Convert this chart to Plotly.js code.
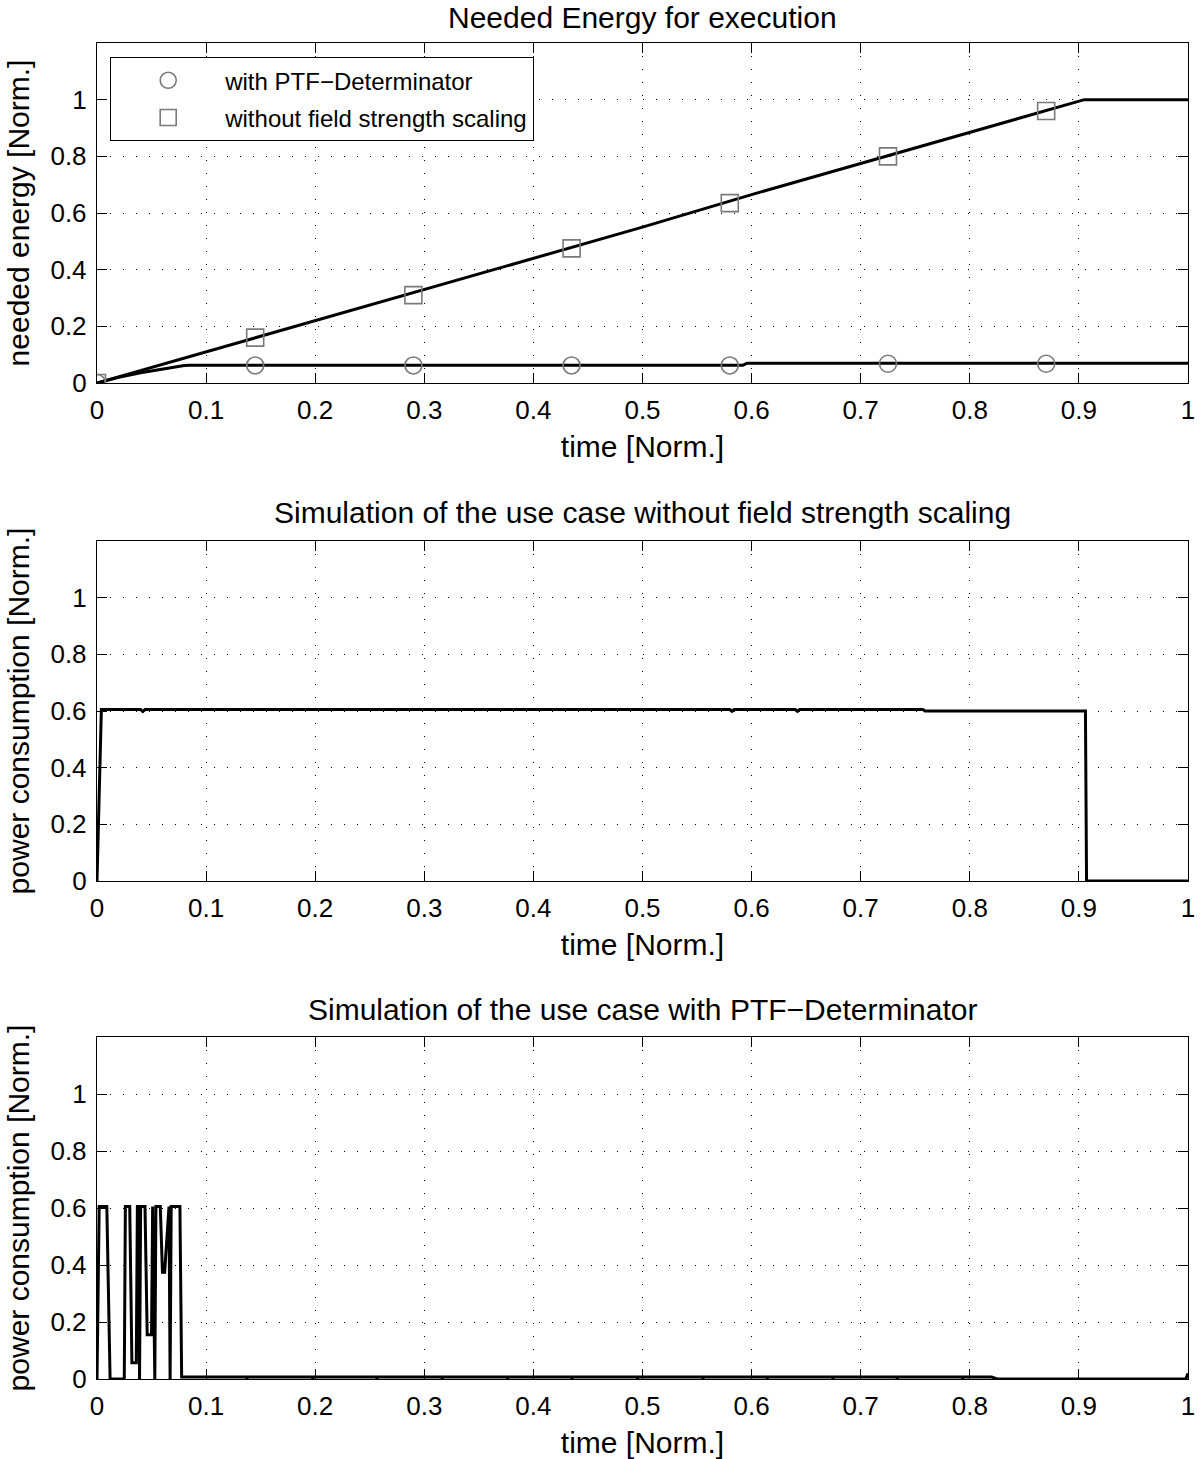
<!DOCTYPE html>
<html>
<head>
<meta charset="utf-8">
<script src="https://cdn.plot.ly/plotly-3.0.1.min.js"></script>
<style>html,body{margin:0;padding:0;background:#fff}#chart{width:1200px;height:1459px}</style>
</head>
<body>
<div id="chart"></div>
<script>
// ---- Panel 1: needed energy ----
const energyNoScaleT = [0, 0.1, 0.2, 0.3, 0.4, 0.5, 0.6, 0.7, 0.8, 0.905, 1];
const energyNoScaleY = [0, 0.11, 0.22, 0.33, 0.44, 0.55, 0.665, 0.775, 0.885, 1, 1];
const energyPtfT = [0, 0.02, 0.04, 0.06, 0.08, 0.085, 0.592, 0.596, 1];
const energyPtfY = [0, 0.02, 0.036, 0.05, 0.062, 0.063, 0.063, 0.07, 0.07];
const markerT = [0, 0.145, 0.29, 0.435, 0.58, 0.725, 0.87];
const markerPtfY = [0, 0.062, 0.062, 0.062, 0.062, 0.068, 0.068];
const markerNoScaleY = [0, 0.16, 0.31, 0.475, 0.635, 0.8, 0.96];

// ---- Panel 2: power without field strength scaling ----
const powerNoScaleT = [0, 0.004, 0.04, 0.042, 0.044, 0.58, 0.582, 0.584, 0.64, 0.642, 0.644, 0.757, 0.759, 0.906, 0.907, 1];
const powerNoScaleY = [0, 0.605, 0.605, 0.598, 0.605, 0.605, 0.599, 0.605, 0.605, 0.599, 0.605, 0.605, 0.6, 0.6, 0, 0];

// ---- Panel 3: power with PTF-Determinator ----
const powerPtfT = [0, 0.002, 0.009, 0.012, 0.025, 0.026, 0.030, 0.032, 0.036, 0.037, 0.038, 0.039, 0.040, 0.044, 0.046, 0.050, 0.051, 0.053, 0.054, 0.058, 0.060, 0.062, 0.066, 0.067, 0.068, 0.076, 0.0776,
  0.137, 0.1375, 0.138, 0.197, 0.1975, 0.198, 0.256, 0.2565, 0.257, 0.316, 0.3165, 0.317, 0.376, 0.3765, 0.377, 0.435, 0.4355, 0.436, 0.495, 0.4955, 0.496, 0.555, 0.5555, 0.556, 0.614, 0.6145, 0.615, 0.674, 0.6745, 0.675, 0.733, 0.7335, 0.734, 0.793, 0.7935, 0.794, 0.82, 0.825, 0.998, 1];
const powerPtfY = [0, 0.605, 0.605, 0, 0, 0.605, 0.605, 0.057, 0.057, 0.605, 0.605, 0, 0.605, 0.605, 0.155, 0.155, 0.605, 0, 0.605, 0.605, 0.375, 0.375, 0.605, 0, 0.605, 0.605, 0.007,
  0.007, 0.001, 0.007, 0.007, 0.001, 0.007, 0.007, 0.001, 0.007, 0.007, 0.001, 0.007, 0.007, 0.001, 0.007, 0.007, 0.001, 0.007, 0.007, 0.001, 0.007, 0.007, 0.001, 0.007, 0.007, 0.001, 0.007, 0.007, 0.001, 0.007, 0.007, 0.001, 0.007, 0.007, 0.001, 0.007, 0.007, 0, 0, 0.02];

const titles = ['Needed Energy for execution', 'Simulation of the use case without field strength scaling', 'Simulation of the use case with PTF\u2212Determinator'];
const yTitles = ['needed energy [Norm.]', 'power consumption [Norm.]', 'power consumption [Norm.]'];
const xTitle = 'time [Norm.]';
const legendNames = ['with PTF\u2212Determinator', 'without field strength scaling'];
const xTickVals = [0, 0.1, 0.2, 0.3, 0.4, 0.5, 0.6, 0.7, 0.8, 0.9, 1];
const xTickText = ['0', '0.1', '0.2', '0.3', '0.4', '0.5', '0.6', '0.7', '0.8', '0.9', '1'];
const yTickVals = [0, 0.2, 0.4, 0.6, 0.8, 1];
const yTickText = ['0', '0.2', '0.4', '0.6', '0.8', '1'];

const FONT = 'Liberation Sans, Arial, Helvetica, sans-serif';
const H = 1459;
const lineStyle = {color: '#000', width: 3};
const markerGray = '#7a7a7a';

const traces = [
  {x: energyNoScaleT, y: energyNoScaleY, mode: 'lines', line: lineStyle, showlegend: false, xaxis: 'x', yaxis: 'y', hoverinfo: 'skip'},
  {x: energyPtfT, y: energyPtfY, mode: 'lines', line: lineStyle, showlegend: false, xaxis: 'x', yaxis: 'y', hoverinfo: 'skip'},
  {x: markerT, y: markerPtfY, mode: 'markers', name: legendNames[0], legendgroup: 'a', marker: {symbol: 'circle-open', size: 17, color: markerGray, line: {width: 1.6, color: markerGray}}, xaxis: 'x', yaxis: 'y'},
  {x: markerT, y: markerNoScaleY, mode: 'markers', name: legendNames[1], legendgroup: 'b', marker: {symbol: 'square-open', size: 17, color: markerGray, line: {width: 1.6, color: markerGray}}, xaxis: 'x', yaxis: 'y'},
  {x: powerNoScaleT, y: powerNoScaleY, mode: 'lines', line: lineStyle, showlegend: false, xaxis: 'x2', yaxis: 'y2', hoverinfo: 'skip'},
  {x: powerPtfT, y: powerPtfY, mode: 'lines', line: lineStyle, showlegend: false, xaxis: 'x3', yaxis: 'y3', hoverinfo: 'skip'}
];

function px2paper(p) { return 1 - p / H; }

function xAxis(anchor) {
  return {
    anchor: anchor, domain: [0, 1], range: [0, 1],
    tickvals: xTickVals, ticktext: xTickText,
    ticks: 'inside', ticklen: 10, tickwidth: 1, tickcolor: '#000',
    showline: true, linecolor: '#000', linewidth: 1.2, mirror: 'ticks',
    showgrid: true, gridcolor: '#000', gridwidth: 1, griddash: '1px,12px',
    zeroline: false, ticklabelstandoff: 4,
    tickfont: {family: FONT, size: 26, color: '#000'},
    title: {text: xTitle, font: {family: FONT, size: 30, color: '#000'}, standoff: 11},
    automargin: false, fixedrange: true
  };
}
function yAxis(anchor, topPx, bottomPx, title) {
  return {
    anchor: anchor, domain: [px2paper(bottomPx), px2paper(topPx)], range: [0, 1.2],
    tickvals: yTickVals, ticktext: yTickText,
    ticks: 'inside', ticklen: 10, tickwidth: 1, tickcolor: '#000',
    showline: true, linecolor: '#000', linewidth: 1.2, mirror: 'ticks',
    showgrid: true, gridcolor: '#000', gridwidth: 1, griddash: '1px,12px',
    zeroline: false, ticklabelstandoff: 4,
    tickfont: {family: FONT, size: 26, color: '#000'},
    title: {text: title, font: {family: FONT, size: 30, color: '#000'}, standoff: 12},
    automargin: false, fixedrange: true
  };
}

const panels = [[43, 383], [541, 881], [1037, 1379]];
const titleY = [17, 513, 1009];

const layout = {
  width: 1200, height: H,
  margin: {l: 97, r: 12, t: 0, b: 0},
  paper_bgcolor: '#fff', plot_bgcolor: '#fff',
  font: {family: FONT, color: '#000'},
  xaxis: xAxis('y'), xaxis2: xAxis('y2'), xaxis3: xAxis('y3'),
  yaxis: yAxis('x', panels[0][0], panels[0][1], yTitles[0]),
  yaxis2: yAxis('x2', panels[1][0], panels[1][1], yTitles[1]),
  yaxis3: yAxis('x3', panels[2][0], panels[2][1], yTitles[2]),
  showlegend: true,
  legend: {
    x: (110 - 97) / 1091, y: px2paper(57), xref: 'paper', yref: 'paper', xanchor: 'left', yanchor: 'top',
    bgcolor: '#fff', bordercolor: '#000', borderwidth: 1.2,
    font: {family: FONT, size: 24, color: '#000'}, itemwidth: 104,
    traceorder: 'grouped', tracegroupgap: 3
  },
  annotations: titles.map((t, i) => ({
    text: t, xref: 'paper', yref: 'paper', x: 0.5, y: px2paper(titleY[i]),
    xanchor: 'center', yanchor: 'middle', showarrow: false,
    font: {family: FONT, size: 30, color: '#000'}
  }))
};

Plotly.newPlot('chart', traces, layout, {staticPlot: true, displayModeBar: false});
</script>
</body>
</html>
